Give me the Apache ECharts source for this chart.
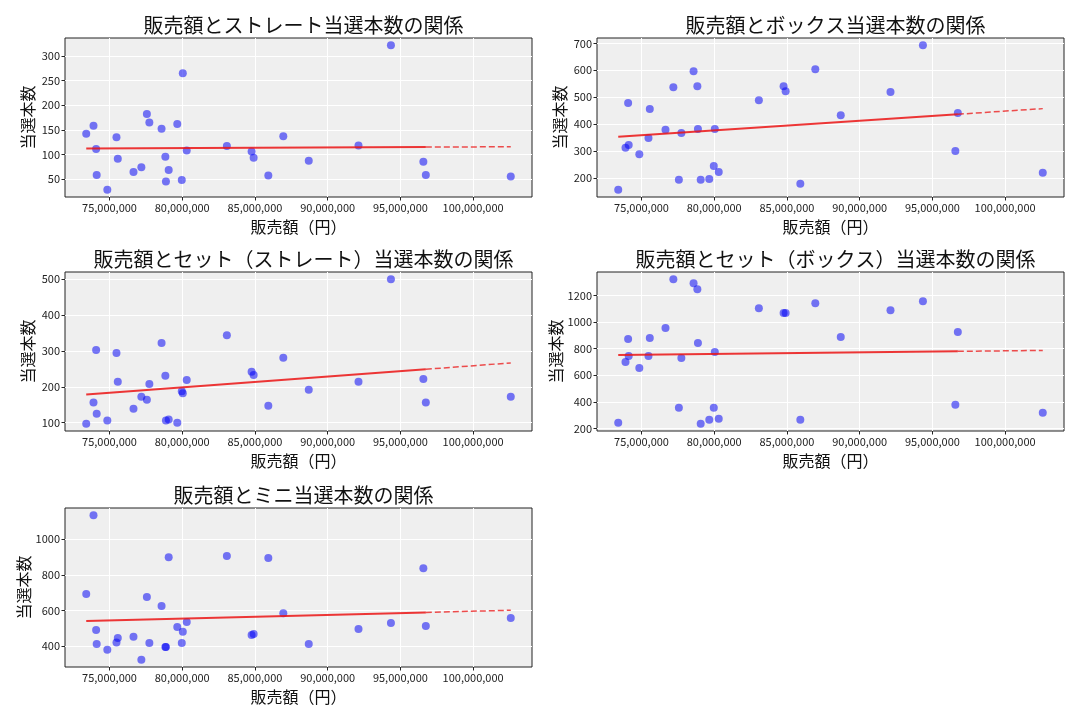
<!DOCTYPE html>
<html><head><meta charset="utf-8">
<script src="https://cdn.jsdelivr.net/npm/echarts@6/dist/echarts.min.js"></script>
<style>html,body{margin:0;padding:0;background:#fff}#c{width:1080px;height:720px}</style>
</head><body><div id="c"></div>
<script>
// 販売額（円）
const sales = [73400000,73900000,74080000,74120000,74850000,75480000,75570000,76650000,77190000,77570000,
  77740000,78580000,78840000,78880000,79070000,79660000,80040000,79970000,80310000,83070000,
  84770000,84910000,85920000,86950000,88700000,92120000,94350000,96580000,96750000,102590000];
const straight = [142,158,111,58,28,135,91,64,74,182,165,152,95,45,68,162,265,48,108,117,106,93,57,137,87,118,322,85,58,55];
const box = [156,312,478,322,288,348,456,379,537,193,367,596,541,382,193,196,382,244,222,489,541,522,178,604,433,519,693,300,441,219];
const setStraight = [97,156,303,125,106,294,214,139,172,164,208,322,231,106,109,100,182,188,219,344,242,233,147,281,192,214,500,222,156,172];
const setBox = [243,700,873,745,655,745,880,955,1323,355,730,1293,1248,843,235,265,775,355,273,1105,1068,1068,265,1143,888,1090,1158,378,925,318];
const mini = [692,1135,490,411,378,419,445,451,322,675,417,624,394,394,899,507,479,417,535,905,462,467,894,583,411,495,529,837,512,557];

const titles = ['販売額とストレート当選本数の関係','販売額とボックス当選本数の関係','販売額とセット（ストレート）当選本数の関係','販売額とセット（ボックス）当選本数の関係','販売額とミニ当選本数の関係'];
const xTicks = [75000000,80000000,85000000,90000000,95000000,100000000];
const yTicksStraight = [50,100,150,200,250,300];
const yTicksBox = [200,300,400,500,600,700];
const yTicksSetStraight = [100,200,300,400,500];
const yTicksSetBox = [200,400,600,800,1000,1200];
const yTicksMini = [400,600,800,1000];
const xName = '販売額（円）';
const yName = '当選本数';

const ys = [straight, box, setStraight, setBox, mini];
const yTicks = [yTicksStraight, yTicksBox, yTicksSetStraight, yTicksSetBox, yTicksMini];
const gridPos = [[65,38],[597,38],[65,272],[597,272],[65,508]];
const GW = 467, GH = 159;
const FONT = 'Noto Sans CJK JP';

function ext(arr){const mn=Math.min(...arr),mx=Math.max(...arr),m=(mx-mn)*0.05;return [mn-m,mx+m];}
function fit(xs, yv){
  const n=xs.length; let sx=0,sy=0;
  for(let i=0;i<n;i++){sx+=xs[i];sy+=yv[i];}
  const mx=sx/n,my=sy/n; let num=0,den=0;
  for(let i=0;i<n;i++){num+=(xs[i]-mx)*(yv[i]-my);den+=(xs[i]-mx)*(xs[i]-mx);}
  const b=num/den; return [my-b*mx,b];
}
const xExt = ext(sales);
const grid=[],xAxis=[],yAxis=[],series=[],title=[];
ys.forEach((yv,i)=>{
  const [l,t]=gridPos[i];
  grid.push({left:l,top:t,width:GW,height:GH,show:true,backgroundColor:'#efefef',borderColor:'#222',borderWidth:1,containLabel:false});
  title.push({text:titles[i],left:l+GW/2,top:t-28,textAlign:'center',textStyle:{fontFamily:FONT,fontSize:20,fontWeight:'normal',color:'#111'}});
  xAxis.push({type:'value',gridIndex:i,min:xExt[0],max:xExt[1],
    name:xName,nameLocation:'middle',nameGap:22,nameTextStyle:{fontFamily:FONT,fontSize:16,color:'#111'},
    axisLine:{show:false},axisTick:{show:true,length:3.5,customValues:xTicks,lineStyle:{color:'#222'}},
    axisLabel:{customValues:xTicks,fontFamily:FONT,fontSize:11,color:'#222',margin:5,formatter:v=>Math.round(v).toLocaleString('en-US')},
    splitLine:{show:true,lineStyle:{color:'#fff',width:1}}});
  const ye=ext(yv);
  yAxis.push({type:'value',gridIndex:i,min:ye[0],max:ye[1],
    name:yName,nameLocation:'middle',nameGap:29,nameTextStyle:{fontFamily:FONT,fontSize:16,color:'#111'},
    axisLine:{show:false},axisTick:{show:true,length:3.5,customValues:yTicks[i],lineStyle:{color:'#222'}},
    axisLabel:{customValues:yTicks[i],fontFamily:FONT,fontSize:11,color:'#222',margin:5,formatter:v=>String(Math.round(v))},
    splitLine:{show:true,lineStyle:{color:'#fff',width:1}}});
  series.push({type:'scatter',xAxisIndex:i,yAxisIndex:i,symbolSize:8,
    itemStyle:{color:'rgba(0,0,245,0.66)'},data:sales.map((x,k)=>[x,yv[k]]),z:3});
  const n=sales.length-1;
  const [a,b]=fit(sales,yv);
  const fx=sales.slice(0,n);
  const x0=Math.min(...fx), x1=Math.max(...fx), x2=sales[n];
  series.push({type:'line',xAxisIndex:i,yAxisIndex:i,symbol:'none',silent:true,z:4,
    lineStyle:{color:'rgba(235,20,20,0.85)',width:2},data:[[x0,a+b*x0],[x1,a+b*x1]]});
  series.push({type:'line',xAxisIndex:i,yAxisIndex:i,symbol:'none',silent:true,z:4,
    lineStyle:{color:'rgba(235,20,20,0.75)',width:1.5,type:[6,3]},data:[[x1,a+b*x1],[x2,a+b*x2]]});
});
const chart=echarts.init(document.getElementById('c'),null,{renderer:'canvas'});
chart.setOption({animation:false,backgroundColor:'#fff',title,grid,xAxis,yAxis,series});
</script></body></html>
